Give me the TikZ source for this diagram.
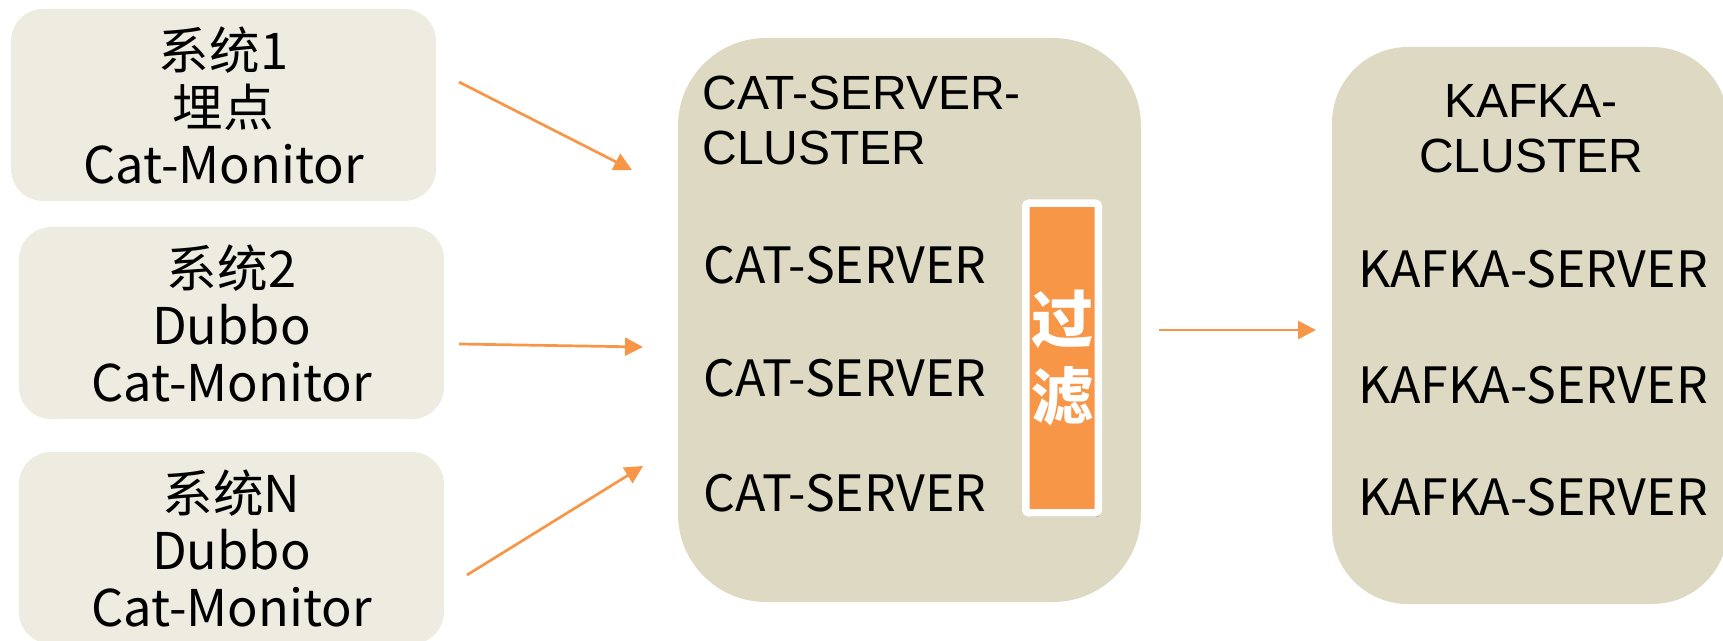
\documentclass[tikz,border=0pt]{standalone}
\usepackage{fontspec}
\setmainfont{Liberation Sans}
\newfontfamily\cjk{Noto Sans CJK SC}
\usetikzlibrary{arrows.meta,positioning,shadows}
\definecolor{sysbg}{RGB}{238,236,225}
\definecolor{clusterbg}{RGB}{221,217,195}
\definecolor{flow}{RGB}{247,150,70}
\tikzset{
	sysbox/.style={fill=sysbg, rounded corners=16pt, inner sep=0pt, minimum width=212.5pt, minimum height=96pt, align=center, font=\cjk\fontsize{25.3}{28.5}\selectfont},
	clusterbox/.style={fill=clusterbg, inner sep=0pt},
	title/.style={align=left, inner sep=0pt, font=\fontsize{24}{27.5}\selectfont},
	server/.style={inner sep=0pt, font=\cjk\fontsize{25}{30}\selectfont},
	filterbox/.style={fill=flow, draw=white, line width=3.75pt, rounded corners=1.5pt, inner sep=0pt, minimum width=36.25pt, minimum height=154.75pt, align=center, text=white, font=\cjk\bfseries\fontsize{31}{38.5}\selectfont, drop shadow={shadow xshift=1pt, shadow yshift=-2pt, fill=black, opacity=.25}},
	flowarrow/.style={-{Triangle[length=9pt,width=9pt]}, draw=flow, line width=1.35pt}
}
\begin{document}
\begin{tikzpicture}[x=0.5pt,y=-0.5pt]
		\useasboundingbox (0,0) rectangle (1723,641);
		% systems on the left
		\node [sysbox](sys1) at (223.5,105) {系统1\\埋点\\Cat-Monitor};
		\node [sysbox](sys2) at (231.5,323) {系统2\\Dubbo\\Cat-Monitor};
		\node [sysbox](sysn) at (231.5,548) {系统N\\Dubbo\\Cat-Monitor};
		% cat server cluster
		\node [clusterbox, rounded corners=44pt, minimum width=231.5pt, minimum height=282pt](cat) at (909.5,320) {};
		\node [title, anchor=west](cat_title) at (702,120) {CAT-SERVER-\\CLUSTER};
		\node [server, anchor=west](cat1) at (703,265) {CAT-SERVER};
		\node [server, anchor=west](cat2) at (703,378) {CAT-SERVER};
		\node [server, anchor=west](cat3) at (703,493) {CAT-SERVER};
		\node [filterbox](filter) at (1062,358) {过\\滤};
		% kafka cluster
		\node [clusterbox, rounded corners=38pt, minimum width=198pt, minimum height=278.5pt](kafka) at (1530,325.5) {};
		\node [title, align=center](kafka_title) at (1531,129) {KAFKA-\\CLUSTER};
		\node [server](kafka1) at (1533,269) {KAFKA-SERVER};
		\node [server](kafka2) at (1533,385) {KAFKA-SERVER};
		\node [server](kafka3) at (1533,497) {KAFKA-SERVER};
		% arrows
		\coordinate (from1) at (459,82);
		\coordinate (from2) at (459,344);
		\coordinate (from3) at (467,575);
		\coordinate (from4) at (1159,330);
		\coordinate (in1) at (632,170);
		\coordinate (in2) at (643,347);
		\coordinate (in3) at (643,466);
		\coordinate (out) at (1316,330);
		\draw [flowarrow] (from1) -- (in1);
		\draw [flowarrow] (from2) -- (in2);
		\draw [flowarrow] (from3) -- (in3);
		\draw [flowarrow] (from4) -- (out);
		\end{tikzpicture}
\end{document}
